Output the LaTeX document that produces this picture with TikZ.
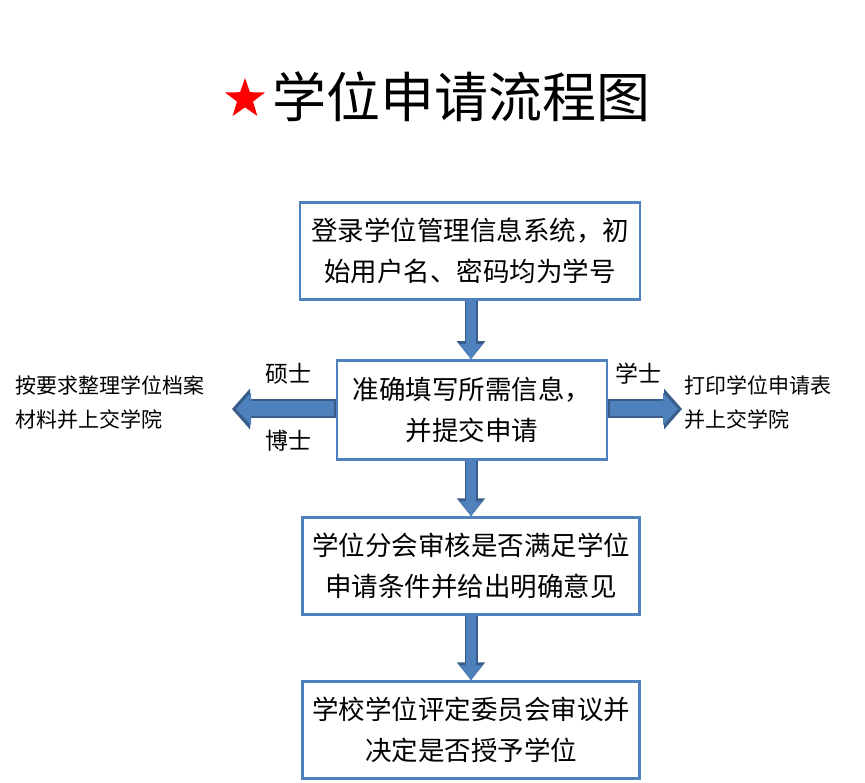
\documentclass[tikz,border=0pt]{standalone}
\usepackage{fontspec}
\newfontfamily\cjk{Noto Sans CJK SC}
\usetikzlibrary{arrows.meta,shapes.geometric}
\definecolor{arrfill}{RGB}{79,129,189}
\definecolor{arrline}{RGB}{56,93,138}
\definecolor{boxline}{RGB}{79,129,189}
\begin{document}
\begin{tikzpicture}[x=1pt,y=-1pt,
  box/.style={draw=boxline,line width=2.5pt,fill=white,align=center,font=\cjk\fontsize{26.5}{41}\selectfont,inner sep=0pt},
  side/.style={align=left,anchor=west,font=\cjk\fontsize{21}{34}\selectfont,inner sep=0pt},
  lab/.style={font=\cjk\fontsize{23}{26}\selectfont,inner sep=0pt},
  barrow/.style={line width=#1,arrline,-{Triangle[width=2.1*#1,length=18pt]}},
  barrowin/.style={line width=#1,arrfill,shorten >=2pt,-{Triangle[width=2.1*#1,length=15pt]}}]
\useasboundingbox (0,0) rectangle (865,783);
\fill[white] (0,0) rectangle (865,783);
\node[star,star points=5,star point ratio=2.5,fill=red,minimum size=42pt,inner sep=0pt] (star) at (245,99) {};
\node[font=\cjk\fontsize{54}{60}\selectfont,inner sep=0pt] (title) at (461,97) {学位申请流程图};
\node[box,minimum width=340pt,minimum height=97pt] (b1) at (470,251) {登录学位管理信息系统，初\\始用户名、密码均为学号};
\node[box,minimum width=270pt,minimum height=99pt] (b2) at (472,410) {准确填写所需信息，\\并提交申请};
\node[box,minimum width=337pt,minimum height=97pt] (b3) at (471,566) {学位分会审核是否满足学位\\申请条件并给出明确意见};
\node[box,minimum width=337pt,minimum height=97pt] (b4) at (471,730) {学校学位评定委员会审议并\\决定是否授予学位};
\node[side] (l) at (15,402) {按要求整理学位档案\\材料并上交学院};
\node[side] (r) at (684,402) {打印学位申请表\\并上交学院};
\coordinate (lend) at (232,409);
\coordinate (rend) at (682,409);
\node[lab] (ms) at (288,374) {硕士};
\node[lab] (bs) at (288,441) {博士};
\node[lab] (xs) at (638,374) {学士};
\foreach \a/\b in {b1/b2,b2/b3,b3/b4}{
  \draw[barrow=13pt] (\a.south -| 471,0) -- (\b.north -| 471,0);
  \draw[barrowin=10pt] ([yshift=1.5pt]\a.south -| 471,0) -- ([yshift=-2pt]\b.north -| 471,0);
}
\draw[barrow=19pt] (b2.west |- lend) -- (lend);
\draw[barrowin=15pt] ([xshift=-2pt]b2.west |- lend) -- ([xshift=2pt]lend);
\draw[barrow=19pt] (b2.east |- rend) -- (rend);
\draw[barrowin=15pt] ([xshift=2pt]b2.east |- rend) -- ([xshift=-2pt]rend);
\end{tikzpicture}
\end{document}
